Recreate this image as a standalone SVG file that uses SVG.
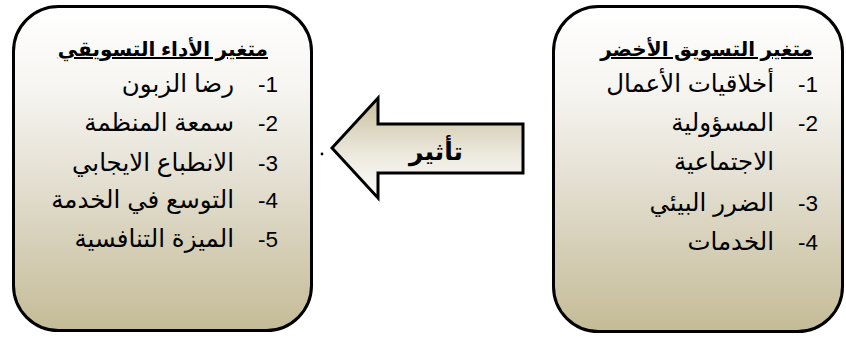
<svg xmlns="http://www.w3.org/2000/svg" width="846" height="339" viewBox="0 0 846 339">
  <defs>
    <linearGradient id="boxFill" x1="0" y1="0" x2="0" y2="1">
      <stop offset="0" stop-color="#ffffff"/>
      <stop offset="0.25" stop-color="#f6f5f1"/>
      <stop offset="0.5" stop-color="#e6e2d6"/>
      <stop offset="1" stop-color="#c4bb96"/>
    </linearGradient>
    <linearGradient id="arrowFill" x1="0" y1="0" x2="0" y2="1">
      <stop offset="0" stop-color="#c8bf9c"/>
      <stop offset="0.6" stop-color="#eeebe2"/>
      <stop offset="1" stop-color="#fdfdfb"/>
    </linearGradient>
    <style>
      .box { fill: url(#boxFill); stroke: #000; stroke-width: 3; }
      .arrow { fill: url(#arrowFill); stroke: #000; stroke-width: 3; stroke-linejoin: miter; }
      .title { font-family: "Liberation Sans", "DejaVu Sans", sans-serif; font-size: 20px; font-weight: bold; text-decoration: underline; fill: #000; }
      .item { font-family: "Liberation Sans", "DejaVu Sans", sans-serif; font-size: 24.5px; fill: #000; }
      .num { font-family: "Liberation Sans", "DejaVu Sans", sans-serif; font-size: 22.5px; fill: #000; }
      .label { font-family: "Liberation Sans", "DejaVu Sans", sans-serif; font-size: 25px; font-weight: bold; fill: #000; }
    </style>
  </defs>

  <!-- marketing performance variables -->
  <g id="performance">
    <rect class="box" x="13.5" y="6.5" width="298" height="324" rx="45" ry="45"/>
    <text class="title" x="268" y="56" text-anchor="end">متغير الأداء التسويقي</text>
    <text class="num" x="278" y="92" text-anchor="end">-1</text>
    <text class="item" x="234" y="92" text-anchor="end">رضا الزبون</text>
    <text class="num" x="278" y="131" text-anchor="end">-2</text>
    <text class="item" x="234" y="131" text-anchor="end">سمعة المنظمة</text>
    <text class="num" x="278" y="171" text-anchor="end">-3</text>
    <text class="item" x="234" y="171" text-anchor="end">الانطباع الايجابي</text>
    <text class="num" x="278" y="208" text-anchor="end">-4</text>
    <text class="item" x="234" y="208" text-anchor="end">التوسع في الخدمة</text>
    <text class="num" x="278" y="247" text-anchor="end">-5</text>
    <text class="item" x="234" y="247" text-anchor="end">الميزة التنافسية</text>
  </g>

  <!-- green marketing variables -->
  <g id="green-marketing">
    <rect class="box" x="553.5" y="6.5" width="289" height="325" rx="45" ry="45"/>
    <text class="title" x="813" y="56" text-anchor="end">متغير التسويق الأخضر</text>
    <text class="num" x="818" y="92" text-anchor="end">-1</text>
    <text class="item" x="774" y="92" text-anchor="end">أخلاقيات الأعمال</text>
    <text class="num" x="818" y="131" text-anchor="end">-2</text>
    <text class="item" x="774" y="131" text-anchor="end">المسؤولية</text>
    <text class="item" x="774" y="170" text-anchor="end">الاجتماعية</text>
    <text class="num" x="818" y="211" text-anchor="end">-3</text>
    <text class="item" x="774" y="211" text-anchor="end">الضرر البيئي</text>
    <text class="num" x="818" y="250" text-anchor="end">-4</text>
    <text class="item" x="774" y="250" text-anchor="end">الخدمات</text>
  </g>

  <!-- influence arrow -->
  <g id="connectors">
    <path class="arrow" d="M332,148 L378,98 L378,124 L523,124 L523,173 L378,173 L378,198 Z"/>
    <text class="label" x="436" y="160" text-anchor="middle">تأثير</text>
    <circle cx="322" cy="154" r="1.4" fill="#000"/>
  </g>
</svg>
